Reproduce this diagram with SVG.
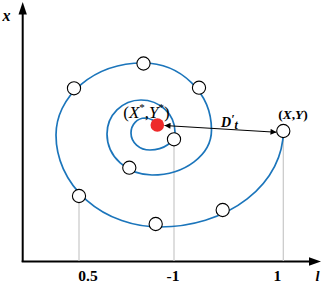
<svg xmlns="http://www.w3.org/2000/svg" width="329" height="284" viewBox="0 0 329 284">
<style>
.node{fill:#fff;stroke:#000;stroke-width:1.1}
.guide{stroke:#c8c8c8;stroke-width:1.2;fill:none}
.axis{stroke:#000;stroke-width:2;fill:none}
.spiral{stroke:#1b75bb;stroke-width:1.7;fill:none}
.lbl{font-family:"Liberation Serif",serif;font-weight:bold;fill:#000}
.tick{font-size:15.5px;text-anchor:middle}
</style>
<defs>
<marker id="ah" viewBox="0 0 10 10" refX="10" refY="5" markerWidth="8" markerHeight="6" markerUnits="userSpaceOnUse" orient="auto-start-reverse">
<path d="M0,0 L10,5 L0,10 Z" fill="#000"/>
</marker>
</defs>
<rect width="329" height="284" fill="#fff"/>
<g id="axes">
<line class="axis" x1="22.7" y1="262" x2="22.7" y2="12"/>
<polygon points="22.7,2 18.5,14.5 26.9,14.5" fill="#000"/>
<line class="axis" x1="21.7" y1="261.5" x2="311" y2="261.5"/>
<polygon points="321,261.5 309,257.3 309,265.7" fill="#000"/>
<text class="lbl" x="2.5" y="20.7" font-size="16" font-style="italic">x</text>
<text class="lbl" x="315.5" y="281" font-size="14.5" font-style="italic">l</text>
<text class="lbl tick" x="88" y="281">0.5</text>
<text class="lbl tick" x="173" y="281">-1</text>
<text class="lbl tick" x="277.3" y="281">1</text>
</g>
<g id="connectors">
<line class="guide" x1="79" y1="202" x2="79" y2="261"/>
<line class="guide" x1="174" y1="145" x2="174" y2="261"/>
<line class="guide" x1="283.3" y1="137" x2="283.3" y2="261"/>
<path class="spiral" d="M283.3,131 A123.3,96 0 0 1 160,227 A104,92 0 0 1 56,135 A87,72 0 0 1 143,63 A68.5,67 0 0 1 211.5,130 A59.5,45 0 0 1 152,175 A45,41 0 0 1 107,134 A34,34 0 0 1 141,100 A34,32 0 0 1 175,132 A25,18 0 0 1 150,150 A19,17 0 0 1 131,133 A14,15 0 0 1 145,118 A13,9 0 0 1 157,125"/>
<line x1="164.5" y1="125.5" x2="276.5" y2="132.2" stroke="#000" stroke-width="1.1" marker-start="url(#ah)" marker-end="url(#ah)"/>
</g>
<g id="n1"><circle class="node" cx="143.5" cy="63.5" r="6.6"/></g>
<g id="n2"><circle class="node" cx="74" cy="88.3" r="6.6"/></g>
<g id="n3"><circle class="node" cx="199" cy="87.7" r="6.6"/></g>
<g id="n4"><circle class="node" cx="174" cy="139.3" r="6.6"/></g>
<g id="n5"><circle class="node" cx="129.3" cy="167.7" r="6.6"/></g>
<g id="n6"><circle class="node" cx="79" cy="196" r="6.6"/></g>
<g id="n7"><circle class="node" cx="155.7" cy="224" r="6.6"/></g>
<g id="n8"><circle class="node" cx="222.7" cy="210" r="6.6"/></g>
<g id="n9"><circle class="node" cx="283.3" cy="131" r="6.6"/>
<text class="lbl" x="293" y="119" font-size="13.5" text-anchor="middle">(<tspan font-style="italic">X</tspan>,<tspan font-style="italic">Y</tspan>)</text></g>
<g id="best"><circle cx="157.3" cy="125" r="6.8" fill="#ee2a2a"/>
<text x="146.5" y="117.5" font-family="Liberation Serif,serif" font-size="17" text-anchor="middle" fill="#000">(<tspan font-style="italic">X</tspan><tspan font-size="11" dy="-7">*</tspan><tspan dy="7">,</tspan><tspan font-style="italic">Y</tspan><tspan font-size="11" dy="-7">*</tspan><tspan dy="7">)</tspan></text></g>
<g id="dist"><text class="lbl" x="221" y="126.5" font-size="14" font-style="italic">D<tspan font-size="12" dy="-4">′</tspan><tspan font-size="12" dy="6.5">t</tspan></text></g>
</svg>
